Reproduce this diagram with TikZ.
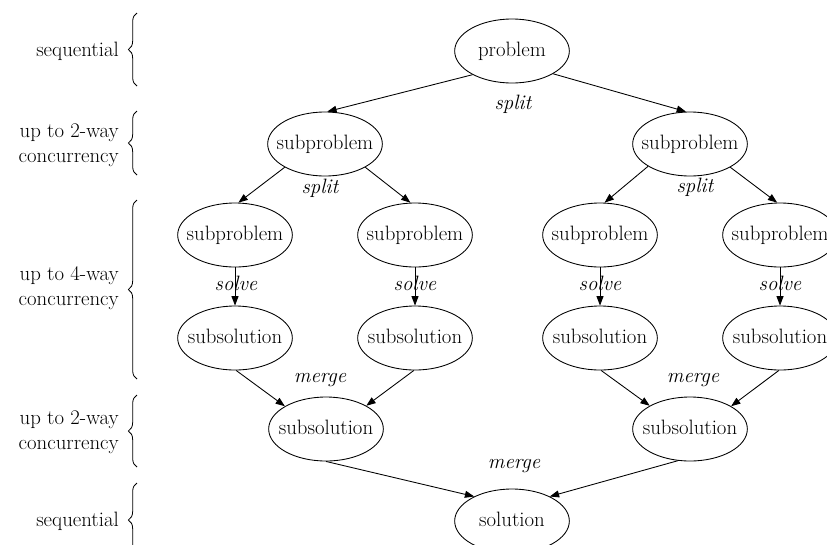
\documentclass[tikz,border=0pt]{standalone}
\usepackage{fontspec}
\usetikzlibrary{shapes.geometric,arrows.meta,decorations.pathreplacing}
\newcommand\tasklbl[1]{\makebox[0pt]{\vphantom{bp}#1}}
\begin{document}
\begin{tikzpicture}[x=0.75pt,y=-0.75pt,
  txt/.style={font=\fontsize{15.6}{18.8}\selectfont},
  task/.style={ellipse,draw,line width=0.65pt,inner sep=0pt,
    minimum width=86pt,minimum height=48pt,txt},
  flow/.style={line width=0.65pt,-{Triangle[length=7pt,width=5.2pt]}},
  act/.style={font=\fontsize{15.6}{18.8}\selectfont\itshape,inner sep=1pt},
  level/.style={txt,align=right,anchor=east,inner sep=0pt},
  bracket/.style={decorate,decoration={brace,amplitude=6.5pt},line width=0.6pt}]
\clip (0,0) rectangle (827,544);

% tasks
\node[task] (p)   at (512,51)  {\tasklbl{problem}};
\node[task] (a)   at (325,144) {\tasklbl{subproblem}};
\node[task] (b)   at (690,144) {\tasklbl{subproblem}};
\node[task] (a1)  at (235,235) {\tasklbl{subproblem}};
\node[task] (a2)  at (415,235) {\tasklbl{subproblem}};
\node[task] (b1)  at (600,235) {\tasklbl{subproblem}};
\node[task] (b2)  at (780,235) {\tasklbl{subproblem}};
\node[task] (a1s) at (235,338) {\tasklbl{subsolution}};
\node[task] (a2s) at (415,338) {\tasklbl{subsolution}};
\node[task] (b1s) at (600,338) {\tasklbl{subsolution}};
\node[task] (b2s) at (780,338) {\tasklbl{subsolution}};
\node[task] (am)  at (326,429) {\tasklbl{subsolution}};
\node[task] (bm)  at (690,429) {\tasklbl{subsolution}};
\node[task] (sol) at (512,521) {\tasklbl{solution}};

% edge labels
\node[act] (l0) at (513,104) {split};
\node[act] (l1) at (320,188) {split};
\node[act] (l2) at (695,187) {split};
\node[act] (l3) at (236,283) {solve};
\node[act] (l4) at (415,283) {solve};
\node[act] (l5) at (600,283) {solve};
\node[act] (l6) at (780,283) {solve};
\node[act] (l7) at (320,380) {merge};
\node[act] (l8) at (693,380) {merge};
\node[act] (l9) at (514,466) {merge};

% split
\draw[flow] (p.211) -- (a.86);
\draw[flow] (p.331) -- (b.97);
\draw[flow] (a.210) -- (a1.84);
\draw[flow] (a.330) -- (a2.98);
\draw[flow] (b.208) -- (b1.82);
\draw[flow] (b.330) -- (b2.95);
% solve
\draw[flow] (a1.south) -- (a1s.north);
\draw[flow] (a2.south) -- (a2s.north);
\draw[flow] (b1.south) -- (b1s.north);
\draw[flow] (b2.south) -- (b2s.north);
% merge
\draw[flow] (a1s.272) -- (am.151);
\draw[flow] (a2s.268) -- (am.30);
\draw[flow] (b1s.272) -- (bm.150);
\draw[flow] (b2s.268) -- (bm.29);
\draw[flow] (am.270) -- (sol.147);
\draw[flow] (bm.249) -- (sol.33);

% concurrency levels
\node[level] (v1) at (119,51)  {sequential};
\node[level] (v2) at (119,145) {up to 2-way\\concurrency};
\node[level] (v3) at (119,288) {up to 4-way\\concurrency};
\node[level] (v4) at (119,432) {up to 2-way\\concurrency};
\node[level] (v5) at (119,521) {sequential};
\draw[bracket] (137,86)  -- (137,13);
\draw[bracket] (137,175) -- (137,111);
\draw[bracket] (137,379) -- (137,200);
\draw[bracket] (137,467) -- (137,395);
\draw[bracket] (137,557) -- (137,483);
\end{tikzpicture}
\end{document}
